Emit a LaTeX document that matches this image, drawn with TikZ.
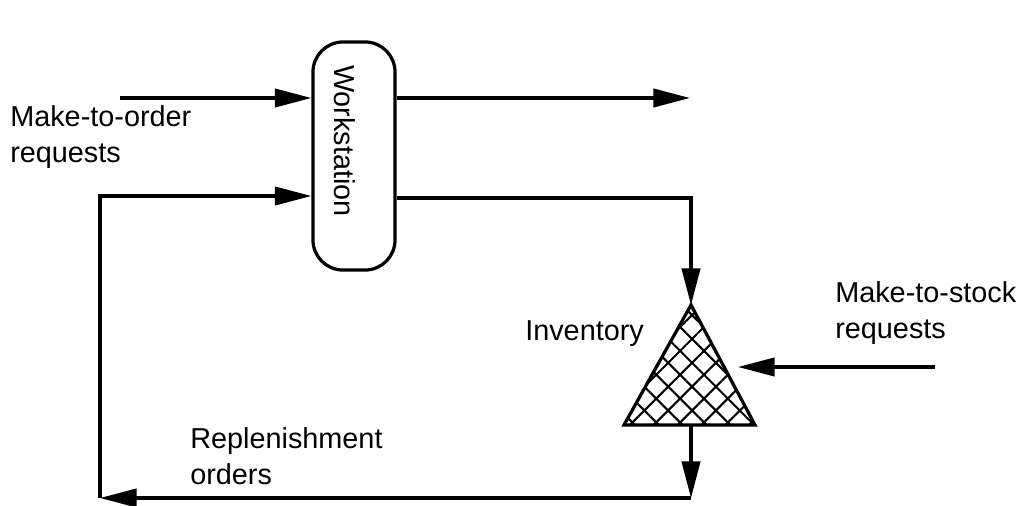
\documentclass[tikz,border=0pt]{standalone}
\usepackage{fontspec}
\setmainfont{Liberation Sans}
\usetikzlibrary{positioning,arrows.meta,patterns.meta}

\begin{document}
\begin{tikzpicture}[x=0.025cm, y=-0.025cm,
  flow/.style={line width=2.3pt, -{Triangle[length=26pt, width=13pt]}},
  plain/.style={line width=2.3pt},
  wsbox/.style={draw, line width=2.3pt, rounded corners=0.75cm,
    minimum width=2.05cm, minimum height=5.7cm},
  lbl/.style={font=\fontsize{20.5}{26}\selectfont, inner sep=0pt, align=left},
]
  \useasboundingbox (0,0) rectangle (1027,506);

  % Workstation
  \node[wsbox] (ws) at (354,156) {};
  \node[lbl, rotate=-90] (wstext) at (345,141) {Workstation};

  % Inventory
  \coordinate (invtop) at (691,305);
  \coordinate (invleft) at (624,425);
  \coordinate (invright) at (755,425);
  \coordinate (invbot) at (691,425);
  \fill[pattern={Hatch[angle=45, distance=12pt, line width=1.5pt]}]
    (invtop) -- (invleft) -- (invright) -- cycle;
  \draw[plain, line join=miter] (invtop) -- (invleft) -- (invright) -- cycle;

  % Make-to-order
  \coordinate (mto) at (120,98);
  \draw[flow] (mto) -- (mto -| ws.west);
  \coordinate (outA) at (690,98);
  \draw[flow] (outA -| ws.east) -- (outA);

  % to inventory
  \coordinate (turn) at (691,198);
  \draw[flow] (turn -| ws.east) -- (turn) -- (invtop);

  % Make-to-stock
  \coordinate (mts) at (935,367);
  \draw[flow] (mts) -- (738,367);

  % Replenishment loop
  \coordinate (botright) at (691,498);
  \coordinate (botleft) at (100,498);
  \coordinate (fb) at (100,196);
  \draw[flow] (invbot) -- (botright);
  \draw[flow] (botright) -- (botleft);
  \draw[flow] (botleft) -- (fb) -- (fb -| ws.west);

  % labels
  \node[lbl, anchor=north west] (mtolbl) at (10,105) {Make-to-order\\requests};
  \node[lbl, anchor=base west] (invlbl) at (525,340) {Inventory};
  \node[lbl, anchor=north west] (mtslbl) at (835,281) {Make-to-stock\\requests};
  \node[lbl, anchor=north west] (replbl) at (190,427) {Replenishment\\orders};
\end{tikzpicture}
\end{document}
